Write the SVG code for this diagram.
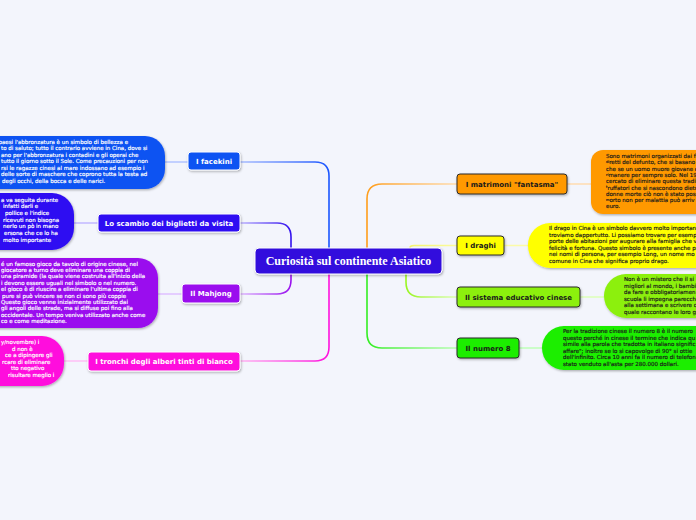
<svg xmlns="http://www.w3.org/2000/svg" width="696" height="520" viewBox="0 0 696 520">
<style>
.lbl{font-family:"DejaVu Sans",Verdana,sans-serif;font-size:7px;font-weight:bold;text-anchor:middle}
.bt{font-family:"DejaVu Sans",Verdana,sans-serif;font-size:5.5px;stroke-width:0.18}
.w{fill:#ffffff}
.bt.w{stroke:#ffffff}
.k{fill:#1a1a1a}
.bt.k{stroke:#1a1a1a}
.conn path{fill:none;stroke-width:1.6;stroke-linecap:round}
.ln{stroke-width:1.2}
</style>
<defs>
<filter id="sh" x="-20%" y="-20%" width="140%" height="150%">
<feDropShadow dx="0.8" dy="1.2" stdDeviation="0.8" flood-color="#000" flood-opacity="0.3"/>
</filter>
<linearGradient id="gFace" gradientUnits="userSpaceOnUse" x1="240" y1="0" x2="329" y2="0"><stop offset="0" stop-color="#a9bdff"/><stop offset="1" stop-color="#1a55ff"/></linearGradient>
<linearGradient id="gBig" gradientUnits="userSpaceOnUse" x1="240" y1="0" x2="291" y2="0"><stop offset="0" stop-color="#bdb3ff"/><stop offset="1" stop-color="#3311ee"/></linearGradient>
<linearGradient id="gMah" gradientUnits="userSpaceOnUse" x1="240" y1="0" x2="291" y2="0"><stop offset="0" stop-color="#dfb8ff"/><stop offset="1" stop-color="#9911ee"/></linearGradient>
<linearGradient id="gTro" gradientUnits="userSpaceOnUse" x1="240" y1="0" x2="329" y2="0"><stop offset="0" stop-color="#ffb3f2"/><stop offset="1" stop-color="#ff11dd"/></linearGradient>
<linearGradient id="gMat" gradientUnits="userSpaceOnUse" x1="457" y1="0" x2="367" y2="0"><stop offset="0" stop-color="#ffdcae"/><stop offset="1" stop-color="#ff9d1a"/></linearGradient>
<linearGradient id="gDra" gradientUnits="userSpaceOnUse" x1="457" y1="0" x2="410" y2="0"><stop offset="0" stop-color="#fbfba0"/><stop offset="1" stop-color="#f5f56a"/></linearGradient>
<linearGradient id="gSis" gradientUnits="userSpaceOnUse" x1="457" y1="0" x2="406" y2="0"><stop offset="0" stop-color="#ddffb3"/><stop offset="1" stop-color="#99f522"/></linearGradient>
<linearGradient id="gNum" gradientUnits="userSpaceOnUse" x1="457" y1="0" x2="367" y2="0"><stop offset="0" stop-color="#b8ffb3"/><stop offset="1" stop-color="#33ee22"/></linearGradient>
</defs>
<rect x="0" y="0" width="696" height="520" fill="#f3f5fc"/>

<g id="connectors" class="conn">
<path d="M329 248 V176 Q329 162 315 162 H240" stroke="url(#gFace)"/>
<path d="M291 248 V237 Q291 223 277 223 H240" stroke="url(#gBig)"/>
<path d="M291 274 V280 Q291 294 277 294 H240" stroke="url(#gMah)"/>
<path d="M329 274 V347 Q329 361 315 361 H240" stroke="url(#gTro)"/>
<path d="M367 248 V199 Q367 184 382 184 H457" stroke="url(#gMat)"/>
<path d="M410 248 Q410 245.5 414 245.5 H457" stroke="url(#gDra)"/>
<path d="M406 274 V282 Q406 297 421 297 H457" stroke="url(#gSis)"/>
<path d="M367 274 V333 Q367 348 382 348 H457" stroke="url(#gNum)"/>
<path class="ln" d="M165 162 H188" stroke="#b3c4ff"/>
<path class="ln" d="M74 223 H98" stroke="#c2b8ff"/>
<path class="ln" d="M158 294 H182" stroke="#e0c0ff"/>
<path class="ln" d="M64 361 H88" stroke="#ffbff5"/>
<path class="ln" d="M567 184 H591" stroke="#ffdcb0"/>
<path class="ln" d="M504 245.5 H528" stroke="#fbfba8"/>
<path class="ln" d="M580 297 H604" stroke="#ddffb8"/>
<path class="ln" d="M519 348 H542" stroke="#bfffb8"/>
</g>

<g id="central">
<rect x="255" y="248" width="187" height="26" rx="4" fill="#3211dd" stroke="#ffffff" stroke-width="1" filter="url(#sh)"/>
<text x="348.5" y="265" font-family="'Liberation Serif','Times New Roman',serif" font-size="12" font-weight="bold" fill="#ffffff" text-anchor="middle">Curiosità sul continente Asiatico</text>
</g>

<g id="facekini">
<rect x="188" y="152" width="52" height="18" rx="3" fill="#1052f2" stroke="#ffffff" stroke-width="1" filter="url(#sh)"/>
<text class="lbl w" x="214" y="163.5">I facekini</text>
</g>
<g id="facekini-note">
<rect x="-30" y="136" width="195" height="53" rx="20" fill="#1052f2" filter="url(#sh)"/>
<text class="bt w" x="-1.5" y="143.5">paesi l'abbronzatura è un simbolo di bellezza e</text>
<text class="bt w" x="1" y="150">to di saluto; tutto il contrario avviene in Cina, dove si</text>
<text class="bt w" x="1" y="156.5">ano per l'abbronzatura i contadini e gli operai che</text>
<text class="bt w" x="1" y="163">tutto il giorno sotto il Sole. Come precauzioni per non</text>
<text class="bt w" x="1" y="169.5">rsi le ragazze cinesi al mare indossano ad esempio i</text>
<text class="bt w" x="1" y="176">delle sorte di maschere che coprono tutta la testa ad</text>
<text class="bt w" x="2" y="182.5">degli occhi, della bocca e delle narici.</text>
</g>

<g id="biglietti">
<rect x="98" y="214" width="142" height="18" rx="3" fill="#2e0ff2" stroke="#ffffff" stroke-width="1" filter="url(#sh)"/>
<text class="lbl w" x="169" y="225.5">Lo scambio dei biglietti da visita</text>
</g>
<g id="biglietti-note">
<rect x="-30" y="193" width="104" height="57" rx="22" fill="#2e0ff2" filter="url(#sh)"/>
<text class="bt w" x="1" y="201.5">a va seguita durante</text>
<text class="bt w" x="3" y="208.2">infatti darli e</text>
<text class="bt w" x="5" y="214.9">pollice e l'indice</text>
<text class="bt w" x="3" y="221.6">ricevuti non bisogna</text>
<text class="bt w" x="3" y="228.3">nerlo un pò in mano</text>
<text class="bt w" x="4" y="235">ersona che ce lo ha</text>
<text class="bt w" x="3" y="241.7">molto importante</text>
</g>

<g id="mahjong">
<rect x="182" y="284" width="58" height="19" rx="3" fill="#9a10ee" stroke="#ffffff" stroke-width="1" filter="url(#sh)"/>
<text class="lbl w" x="211" y="296">Il Mahjong</text>
</g>
<g id="mahjong-note">
<rect x="-30" y="258" width="188" height="70" rx="20" fill="#9a10ee" filter="url(#sh)"/>
<text class="bt w" x="1" y="265.5">é un famoso gioco da tavolo di origine cinese, nel</text>
<text class="bt w" x="1" y="271.9">giocatore a turno deve eliminare una coppia di</text>
<text class="bt w" x="1" y="278.3">una piramide (la quale viene costruita all'inizio della</text>
<text class="bt w" x="1" y="284.7">i devono essere uguali nel simbolo o nel numero.</text>
<text class="bt w" x="1" y="291.1">el gioco è di riuscire a eliminare l'ultima coppia di</text>
<text class="bt w" x="2" y="297.5">pure si può vincere se non ci sono più coppie</text>
<text class="bt w" x="1" y="303.9">Questo gioco venne inizialmente utilizzato dai</text>
<text class="bt w" x="1" y="310.3">gli angoli delle strade, ma si diffuse poi fino alla</text>
<text class="bt w" x="1" y="316.7">occidentale. Un tempo veniva utilizzato anche come</text>
<text class="bt w" x="1" y="323.1">co e come meditazione.</text>
</g>

<g id="tronchi">
<rect x="88" y="352" width="152" height="19" rx="3" fill="#ff11dd" stroke="#ffffff" stroke-width="1" filter="url(#sh)"/>
<text class="lbl w" x="164" y="364">I tronchi degli alberi tinti di bianco</text>
</g>
<g id="tronchi-note">
<rect x="-30" y="336" width="94" height="50" rx="22" fill="#ff11dd" filter="url(#sh)"/>
<text class="bt w" x="1" y="344">y/novembre) i</text>
<text class="bt w" x="12" y="350.6">d non è</text>
<text class="bt w" x="5" y="357.2">ce a dipingere gli</text>
<text class="bt w" x="2" y="363.8">rcare di eliminare</text>
<text class="bt w" x="11" y="370.4">tto negativo</text>
<text class="bt w" x="8" y="377">risultare meglio i</text>
</g>

<g id="matrimoni">
<rect x="457" y="174" width="110" height="20" rx="3" fill="#ff9900" stroke="#2a2a2a" stroke-width="1" filter="url(#sh)"/>
<text class="lbl k" x="512" y="186.5">I matrimoni "fantasma"</text>
</g>
<g id="matrimoni-note">
<rect x="591" y="150" width="130" height="64" rx="12" fill="#ff9900" filter="url(#sh)"/>
<text class="bt k" x="606" y="158">Sono matrimoni organizzati dai f</text>
<text class="bt k" x="606" y="164.3"><tspan font-size="3.5" dy="-1.2">di</tspan><tspan dy="1.2">retti del defunto, che si basano</tspan></text>
<text class="bt k" x="606" y="170.6">che se un uomo muore giovane e</text>
<text class="bt k" x="606" y="176.9"><tspan font-size="3.5" dy="-1.2">ri</tspan><tspan dy="1.2">manere per sempre solo. Nel 19</tspan></text>
<text class="bt k" x="606" y="183.2">cercato di eliminare questa tradi</text>
<text class="bt k" x="606" y="189.5"><tspan font-size="3.5" dy="-1.2">t</tspan><tspan dy="1.2">ruffatori che si nascondono dietr</tspan></text>
<text class="bt k" x="606" y="195.8">donne morte ciò non è stato poss</text>
<text class="bt k" x="606" y="202.1"><tspan font-size="3.5" dy="-1.2">m</tspan><tspan dy="1.2">orto non per malattia può arriv</tspan></text>
<text class="bt k" x="606" y="208.4">euro.</text>
</g>

<g id="draghi">
<rect x="457" y="236" width="47" height="19" rx="3" fill="#ffff00" stroke="#2a2a2a" stroke-width="1" filter="url(#sh)"/>
<text class="lbl k" x="480.5" y="248">I draghi</text>
</g>
<g id="draghi-note">
<rect x="528" y="223" width="190" height="45" rx="22" fill="#ffff00" filter="url(#sh)"/>
<text class="bt k" x="549" y="230">Il drago in Cina è un simbolo davvero molto importan</text>
<text class="bt k" x="549" y="236.5">troviamo dappertutto. <tspan dy="0.8">Li possiamo trovare per esemp</tspan></text>
<text class="bt k" x="549" y="243">porte delle abitazioni per augurare alla famiglia che v</text>
<text class="bt k" x="549" y="249.5">felicità e fortuna. Questo simbolo è presente anche p</text>
<text class="bt k" x="549" y="256">nei nomi di persona, per esempio Long, un nome mo</text>
<text class="bt k" x="549" y="262.5">comune in Cina che significa proprio drago.</text>
</g>

<g id="sistema">
<rect x="457" y="287" width="123" height="20" rx="3" fill="#8cf00f" stroke="#2a2a2a" stroke-width="1" filter="url(#sh)"/>
<text class="lbl k" x="518.5" y="299.5">Il sistema educativo cinese</text>
</g>
<g id="sistema-note">
<rect x="604" y="274" width="116" height="44" rx="22" fill="#8cf00f" filter="url(#sh)"/>
<text class="bt k" x="624" y="281">Non è un mistero che il si</text>
<text class="bt k" x="624" y="287.5">migliori al mondo, i bambi</text>
<text class="bt k" x="624" y="294">da fare e obbligatoriamen</text>
<text class="bt k" x="624" y="300.5">scuola li impegna parecchi</text>
<text class="bt k" x="624" y="307">alla settimana e scrivere c</text>
<text class="bt k" x="624" y="313.5">quale raccontano le loro g</text>
</g>

<g id="numero8">
<rect x="457" y="338" width="62" height="20" rx="3" fill="#1aee00" stroke="#2a2a2a" stroke-width="1" filter="url(#sh)"/>
<text class="lbl k" x="488" y="350.5">Il numero 8</text>
</g>
<g id="numero8-note">
<rect x="542" y="326" width="180" height="44" rx="22" fill="#1aee00" filter="url(#sh)"/>
<text class="bt k" x="563" y="333">Per la tradizione cinese il numero 8 è il numero</text>
<text class="bt k" x="563" y="339.5">questo perché in cinese il termine che indica qu</text>
<text class="bt k" x="563" y="346">simile alla parola che tradotta in italiano signific</text>
<text class="bt k" x="563" y="352.5">affare"; inoltre se lo si capovolge di 90° si ottie</text>
<text class="bt k" x="563" y="359">dell'infinito. Circa 10 anni fa il numero di telefon</text>
<text class="bt k" x="563" y="365.5">stato venduto all'asta per 280.000 dollari.</text>
</g>
</svg>
